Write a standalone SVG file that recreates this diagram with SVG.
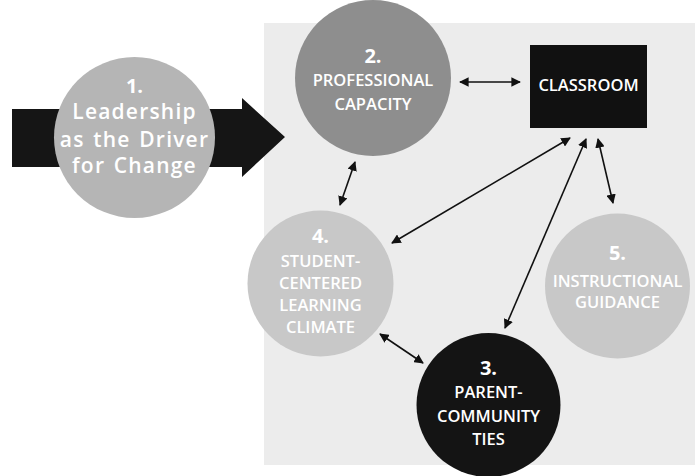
<svg xmlns="http://www.w3.org/2000/svg" width="695" height="476" viewBox="0 0 695 476">
<defs>
<style>
.t{font-family:"Open Sans","DejaVu Sans",sans-serif;font-weight:600;fill:#ffffff;text-anchor:middle}
.big{font-size:21px;letter-spacing:1.2px;word-spacing:2px}
.sm{font-size:16.5px}
.num{font-size:20px;font-weight:700}
.conn{stroke:#111;stroke-width:1.6;fill:none;marker-start:url(#ah);marker-end:url(#ah)}
</style>
<marker id="ah" viewBox="0 0 10 10" refX="9" refY="5" markerWidth="6" markerHeight="6" orient="auto-start-reverse" markerUnits="strokeWidth">
<path d="M0,0 L10,5 L0,10 z" fill="#111"/>
</marker>
</defs>
<rect x="0" y="0" width="695" height="476" fill="#ffffff"/>
<rect id="panel" x="264" y="23" width="431" height="442" fill="#ececec"/>
<g id="driver-arrow">
<polygon points="12,109 242,109 242,98 285,137 242,177 242,167 12,167" fill="#151515"/>
</g>
<g id="node1">
<circle cx="134.5" cy="137.5" r="80.5" fill="#b5b5b5"/>
<text class="t num" x="134.5" y="93">1.</text>
<text class="t big" x="134.5" y="119">Leadership</text>
<text class="t big" x="134.5" y="147">as the Driver</text>
<text class="t big" x="134.5" y="173">for Change</text>
</g>
<g id="node2">
<circle cx="373" cy="78" r="78" fill="#8e8e8e"/>
<text class="t num" x="373" y="63">2.</text>
<text class="t sm" x="373" y="86">PROFESSIONAL</text>
<text class="t sm" x="373" y="110">CAPACITY</text>
</g>
<g id="classroom">
<rect x="530" y="45" width="117" height="83" fill="#111111"/>
<text class="t sm" x="588.5" y="91" font-weight="700">CLASSROOM</text>
</g>
<g id="node4">
<circle cx="320.5" cy="283.5" r="73" fill="#c8c8c8"/>
<text class="t num" x="320.5" y="243">4.</text>
<text class="t sm" x="320.5" y="267">STUDENT-</text>
<text class="t sm" x="320.5" y="289">CENTERED</text>
<text class="t sm" x="320.5" y="311">LEARNING</text>
<text class="t sm" x="320.5" y="333">CLIMATE</text>
</g>
<g id="node5">
<circle cx="617.5" cy="286" r="72.5" fill="#c8c8c8"/>
<text class="t num" x="617.5" y="260">5.</text>
<text class="t sm" x="617.5" y="287">INSTRUCTIONAL</text>
<text class="t sm" x="617.5" y="308">GUIDANCE</text>
</g>
<g id="node3">
<circle cx="488.5" cy="405" r="72" fill="#141414"/>
<text class="t num" x="488.5" y="375">3.</text>
<text class="t sm" x="488.5" y="398">PARENT-</text>
<text class="t sm" x="488.5" y="422">COMMUNITY</text>
<text class="t sm" x="488.5" y="445">TIES</text>
</g>
<g id="connectors">
<line class="conn" x1="460" y1="82" x2="520" y2="82"/>
<line class="conn" x1="355" y1="162" x2="340" y2="205"/>
<line class="conn" x1="570" y1="138" x2="392" y2="243"/>
<line class="conn" x1="586" y1="139" x2="505" y2="328"/>
<line class="conn" x1="598" y1="139" x2="613" y2="203"/>
<line class="conn" x1="380" y1="334" x2="423" y2="363"/>
</g>
</svg>
